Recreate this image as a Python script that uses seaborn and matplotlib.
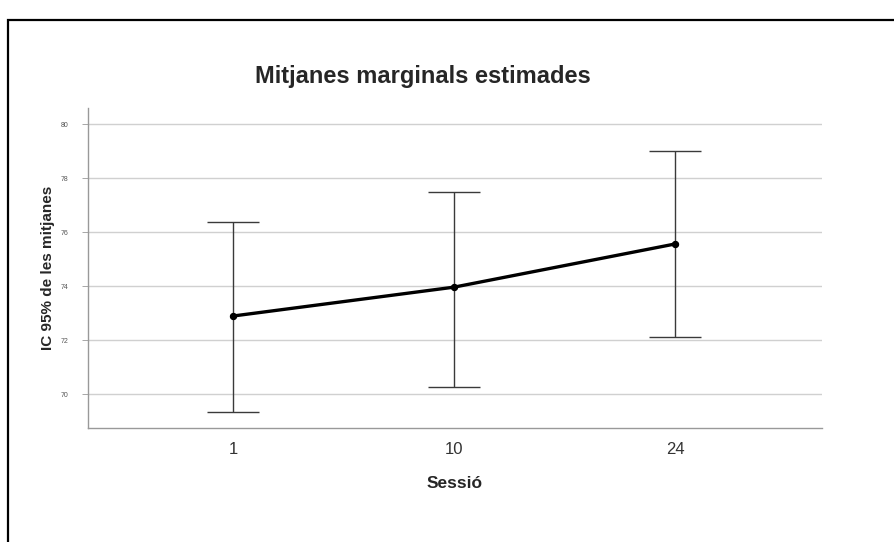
import numpy as np
import pandas as pd
import matplotlib
matplotlib.use("Agg")
import matplotlib.pyplot as plt
import seaborn as sns
from matplotlib.patches import Rectangle

sessions = ["1", "10", "24"]
means = [72.89, 73.96, 75.56]
ci_lower = [69.33, 70.26, 72.11]
ci_upper = [76.37, 77.48, 79.00]
yticks = [70, 72, 74, 76, 78, 80]

sns.set_theme(style="white")
plt.rcParams['font.family'] = ['Liberation Sans', 'DejaVu Sans']

W, H = 894, 542
fig = plt.figure(figsize=(W / 100, H / 100), dpi=100)
ax = fig.add_axes([88 / W, 1 - 428 / H, (822 - 88) / W, (428 - 108) / H])

# outer frame
fig.patches.append(Rectangle((8 / W, -0.1), 1.2, 1 - 20 / H + 0.1, transform=fig.transFigure,
                             fill=False, edgecolor='black', linewidth=1.6))

df = pd.DataFrame({"Sessió": sessions, "mean": means})
x = np.arange(len(sessions))
yerr = np.array([np.array(means) - np.array(ci_lower), np.array(ci_upper) - np.array(means)])
ax.errorbar(x, means, yerr=yerr, fmt='none', ecolor='#3a3a3a', elinewidth=1.0,
            capsize=18.5, capthick=1.0, zorder=3)
sns.pointplot(data=df, x="Sessió", y="mean", errorbar=None, color='black',
              markers='o', markersize=3.5, linewidth=2.4, ax=ax, zorder=4)

ax.set_xlim(-0.656, 2.665)
ax.set_ylim(68.74, 80.6)
ax.set_yticks(yticks)
ax.set_yticklabels([str(t) for t in yticks], fontsize=5, color='#555555')
ax.tick_params(axis='x', labelsize=12, colors='#333333', length=0, pad=10)
ax.tick_params(axis='y', length=4, width=0.6, color='#999999', left=True, pad=10)
ax.yaxis.grid(True, color='#d0d0d0', linewidth=1.0)
ax.set_axisbelow(True)
for s in ['top', 'right']:
    ax.spines[s].set_visible(False)
for s in ['left', 'bottom']:
    ax.spines[s].set_color('#999999')
    ax.spines[s].set_linewidth(1.0)

ax.set_xlabel("Sessió", fontsize=12.5, fontweight='bold', labelpad=14)
ax.set_ylabel("IC 95% de les mitjanes", fontsize=11, fontweight='bold')
ax.yaxis.set_label_coords((55 - 88) / (822 - 88), 0.5)
fig.text(423 / W, 1 - 76 / H, "Mitjanes marginals estimades", ha='center', va='center',
         fontsize=17, fontweight='bold')

fig.savefig("out.png", dpi=100)
